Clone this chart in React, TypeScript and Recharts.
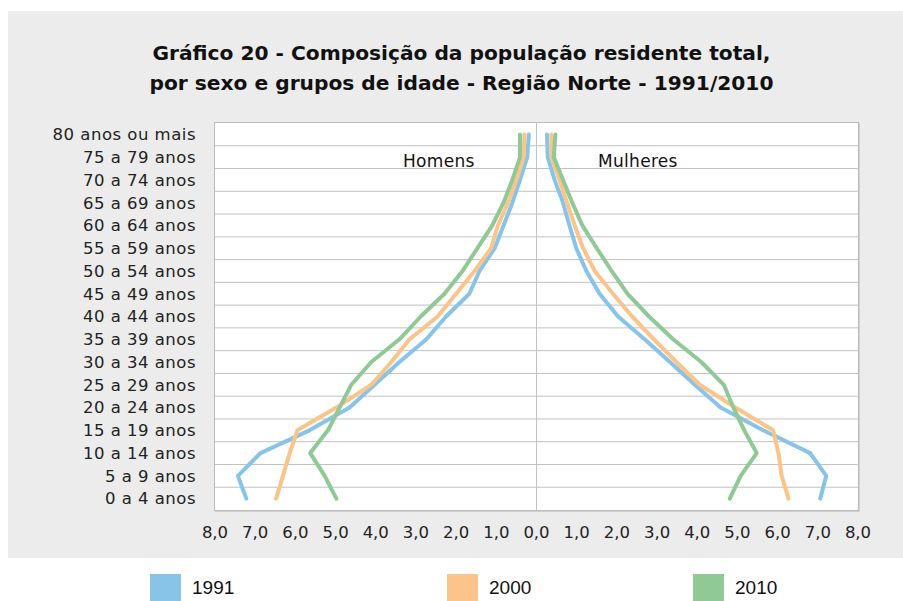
import React from "react"
import { LineChart, Line, XAxis, YAxis, CartesianGrid, ReferenceLine } from "recharts"

const ages = [
  "80 anos ou mais",
  "75 a 79 anos",
  "70 a 74 anos",
  "65 a 69 anos",
  "60 a 64 anos",
  "55 a 59 anos",
  "50 a 54 anos",
  "45 a 49 anos",
  "40 a 44 anos",
  "35 a 39 anos",
  "30 a 34 anos",
  "25 a 29 anos",
  "20 a 24 anos",
  "15 a 19 anos",
  "10 a 14 anos",
  "5 a 9 anos",
  "0 a 4 anos",
]

// % da população, de cima (80+) para baixo (0 a 4)
const homens1991 = [0.19, 0.23, 0.41, 0.6, 0.82, 1.04, 1.42, 1.67, 2.25, 2.74, 3.41, 4.03, 4.65, 5.65, 6.87, 7.43, 7.22]
const homens2000 = [0.3, 0.32, 0.5, 0.71, 0.96, 1.13, 1.54, 2.0, 2.46, 3.16, 3.61, 4.11, 4.98, 5.95, 6.14, 6.31, 6.48]
const homens2010 = [0.41, 0.41, 0.6, 0.82, 1.1, 1.47, 1.84, 2.29, 2.88, 3.41, 4.11, 4.61, 4.9, 5.19, 5.63, 5.27, 4.98]

const mulheres1991 = [0.26, 0.28, 0.45, 0.66, 0.82, 0.99, 1.24, 1.57, 2.03, 2.69, 3.32, 3.94, 4.58, 5.64, 6.81, 7.21, 7.06]
const mulheres2000 = [0.37, 0.37, 0.57, 0.76, 0.95, 1.16, 1.45, 1.9, 2.38, 2.92, 3.48, 4.06, 4.95, 5.89, 6.02, 6.1, 6.27]
const mulheres2010 = [0.47, 0.43, 0.66, 0.89, 1.14, 1.5, 1.87, 2.26, 2.8, 3.4, 4.1, 4.66, 4.9, 5.17, 5.48, 5.08, 4.81]

const xTicks = [-8, -7, -6, -5, -4, -3, -2, -1, 0, 1, 2, 3, 4, 5, 6, 7, 8]

const years = ["1991", "2000", "2010"]
const COLORS = ["#88c3e8", "#fac48a", "#90c995"]

const data = ages.map((age, i) => ({
  age,
  h1991: -homens1991[i],
  h2000: -homens2000[i],
  h2010: -homens2010[i],
  m1991: mulheres1991[i],
  m2000: mulheres2000[i],
  m2010: mulheres2010[i],
}))

const labelFont = "'DejaVu Sans', sans-serif"
const plotHeight = 387
const halfBand = plotHeight / ages.length / 2

const fmt = (v: number) => Math.abs(v).toFixed(1).replace(".", ",")

export default function App() {
  return (
    <div style={{ position: "absolute", left: 0, top: 0, width: 903, height: 601, background: "#fff", overflow: "hidden" }}>
      <div style={{ position: "absolute", left: 8, top: 11, width: 895, height: 547, background: "#ebeceb" }} />
      <div
        style={{
          position: "absolute",
          left: 0,
          top: 38,
          width: 923,
          textAlign: "center",
          fontFamily: labelFont,
          fontWeight: 700,
          fontSize: 20.2,
          lineHeight: "30px",
          color: "#111",
        }}
      >
        Gráfico 20 - Composição da população residente total,
        <br />
        por sexo e grupos de idade - Região Norte - 1991/2010
      </div>
      <div
        style={{
          position: "absolute",
          left: 214,
          top: 122,
          width: 643,
          height: 387,
          background: "#fff",
          border: "1px solid #bcbcbc",
          boxShadow: "1px 1px 0 #cfcfcf",
        }}
      />
      <div style={{ position: "absolute", left: 0, top: 0 }}>
        <LineChart
          width={903}
          height={601}
          data={data}
          layout="vertical"
          margin={{ top: 123, right: 45, left: 0, bottom: 61 }}
        >
          <CartesianGrid
            vertical={false}
            stroke="#c2c2c2"
            horizontalCoordinatesGenerator={({ offset }: any) =>
              ages.map((_, i) => offset.top + ((i + 1) * offset.height) / ages.length).slice(0, ages.length - 1)
            }
          />
          <ReferenceLine x={0} stroke="#c2c2c2" />
          <XAxis
            type="number"
            domain={[-8, 8]}
            ticks={xTicks}
            tickFormatter={fmt}
            axisLine={false}
            tickLine={false}
            tickSize={0}
            tickMargin={16}
            height={30}
            interval={0}
            tick={{ fill: "#222", fontSize: 16.5, fontFamily: labelFont }}
          />
          <YAxis
            type="category"
            dataKey="age"
            width={215}
            padding={{ top: halfBand, bottom: halfBand }}
            axisLine={false}
            tickLine={false}
            tickSize={0}
            tickMargin={19}
            interval={0}
            tick={{ fill: "#222", fontSize: 16.5, fontFamily: labelFont, letterSpacing: 0.5 }}
          />
          {years.map((y, i) => (
            <Line
              key={`h${y}`}
              dataKey={`h${y}`}
              stroke={COLORS[i]}
              strokeWidth={4}
              strokeLinecap="round"
              strokeLinejoin="round"
              dot={false}
              activeDot={false}
              isAnimationActive={false}
            />
          ))}
          {years.map((y, i) => (
            <Line
              key={`m${y}`}
              dataKey={`m${y}`}
              stroke={COLORS[i]}
              strokeWidth={4}
              strokeLinecap="round"
              strokeLinejoin="round"
              dot={false}
              activeDot={false}
              isAnimationActive={false}
            />
          ))}
        </LineChart>
      </div>
      <div style={{ position: "absolute", left: 403, top: 151, fontFamily: labelFont, fontSize: 17, color: "#111", letterSpacing: 0.3 }}>
        Homens
      </div>
      <div style={{ position: "absolute", left: 598, top: 151, fontFamily: labelFont, fontSize: 17, color: "#111", letterSpacing: 0.3 }}>
        Mulheres
      </div>
      {years.map((y, i) => (
        <div key={y} style={{ position: "absolute", left: [150, 447, 693][i], top: 574 }}>
          <div style={{ position: "absolute", left: 0, top: 0, width: 31, height: 27, background: COLORS[i] }} />
          <div
            style={{
              position: "absolute",
              left: 42,
              top: 2,
              fontFamily: "'Liberation Sans Narrow', 'Liberation Sans', sans-serif",
              fontSize: 19,
              color: "#111",
              lineHeight: "24px",
            }}
          >
            {y}
          </div>
        </div>
      ))}
    </div>
  )
}
